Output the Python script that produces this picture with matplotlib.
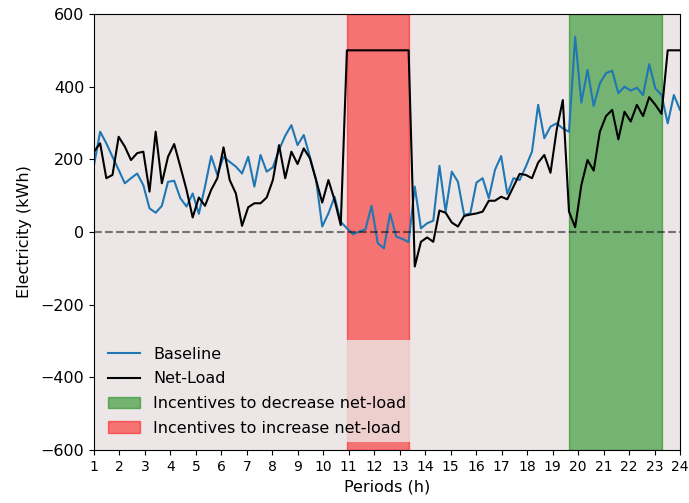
import numpy as np
import matplotlib
matplotlib.use("Agg")
import matplotlib.pyplot as plt

periods = np.linspace(1, 24, 96)

baseline = [184, 276, 244, 207, 171, 134, 148, 161, 129, 65,
            53, 72, 138, 141, 93, 70, 106, 50, 125, 209,
            157, 207, 193, 180, 161, 207, 125, 212, 166, 178,
            226, 265, 294, 239, 267, 207, 143, 15, 51, 97,
            28, 10, -6, 1, 7, 72, -31, -45, 51, -13,
            -19, -28, 125, 10, 24, 31, 182, 56, 166, 138,
            47, 51, 136, 148, 93, 171, 209, 105, 148, 143,
            180, 221, 350, 258, 290, 299, 285, 276, 537, 356,
            446, 347, 409, 437, 444, 382, 400, 389, 397, 377,
            462, 395, 377, 299, 377, 336]

net_load = [221, 244, 148, 157, 262, 235, 198, 217, 221, 111,
            276, 134, 207, 242, 180, 116, 40, 95, 72, 116,
            148, 233, 143, 106, 17, 68, 79, 79, 95, 143,
            239, 148, 221, 187, 230, 203, 143, 81, 143, 88,
            19, 500, 500, 500, 500, 500, 500, 500, 500, 500,
            500, 500, -95, -27, -15, -27, 59, 53, 26, 15,
            44, 48, 51, 56, 86, 86, 97, 90, 125, 160,
            157, 148, 191, 212, 163, 281, 363, 56, 13, 129,
            198, 169, 276, 319, 336, 255, 331, 304, 350, 319,
            371, 350, 325, 500, 500, 500]

decrease_idx = (77, 92)
increase_idx = (41, 51)

fig = plt.figure(figsize=(6.89, 5.03), dpi=100)
ax = fig.add_axes([0.1364, 0.1054, 0.8506, 0.8668])
ax.set_facecolor('#ECE7E6')

ax.plot(periods, baseline, color='C0', lw=1.5, label='Baseline')
ax.plot(periods, net_load, color='black', lw=1.5, label='Net-Load')
ax.axvspan(periods[decrease_idx[0]], periods[decrease_idx[1]], color='green', alpha=0.5,
           label='Incentives to decrease net-load')
ax.axvspan(periods[increase_idx[0]], periods[increase_idx[1]], color='red', alpha=0.5,
           label='Incentives to increase net-load')
ax.axhline(0, color='black', ls='--', alpha=0.5, lw=1.5)

ax.set_xlim(1, 24)
ax.set_ylim(-600, 600)
ax.set_xticks(range(1, 25))
ax.set_yticks(range(-600, 601, 200))
ax.tick_params(axis='x', labelsize=10)
ax.tick_params(axis='y', labelsize=11.5)
ax.set_xlabel('Periods (h)', fontsize=11.5)
ax.set_ylabel('Electricity (kWh)', fontsize=11.5, labelpad=6)

leg = ax.legend(loc='lower left', frameon=True, facecolor='#ECE7E6', edgecolor='none',
                framealpha=0.8, fontsize=11.5, labelspacing=0.6)

fig.savefig('out.png', dpi=100)
